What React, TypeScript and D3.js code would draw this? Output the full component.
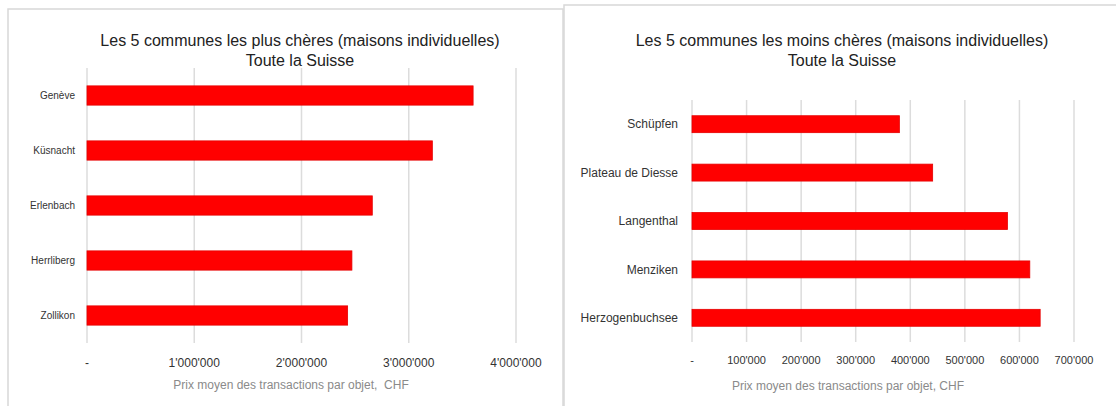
import React from "react";
import * as d3 from "d3";

const leftCategories = ["Genève", "Küsnacht", "Erlenbach", "Herrliberg", "Zollikon"];
const leftValues = [3600000, 3220000, 2660000, 2470000, 2430000];
const leftTicks = [0, 1000000, 2000000, 3000000, 4000000];

const rightCategories = ["Schüpfen", "Plateau de Diesse", "Langenthal", "Menziken", "Herzogenbuchsee"];
const rightValues = [380000, 441000, 578000, 619000, 638000];
const rightTicks = [0, 100000, 200000, 300000, 400000, 500000, 600000, 700000];

const leftTitle = ["Les 5 communes les plus chères (maisons individuelles)", "Toute la Suisse"];
const rightTitle = ["Les 5 communes les moins chères (maisons individuelles)", "Toute la Suisse"];
const leftAxisTitle = "Prix moyen des transactions par objet,\u00a0 CHF";
const rightAxisTitle = "Prix moyen des transactions par objet, CHF";

const FONT = "'Liberation Sans', Arial, Helvetica, sans-serif";
const locale = d3.formatLocale({ decimal: ".", thousands: "'", grouping: [3], currency: ["", ""] });
const fmt = (v: number) => (v === 0 ? "-" : locale.format(",")(v));

type PanelProps = {
  categories: string[];
  values: number[];
  ticks: number[];
  title: string[];
  axisTitle: string;
  xRange: [number, number];
  yRange: [number, number];
  titleX: number;
  labelX: number;
  labelSize: number;
  tickSize: number;
  tickY: number;
  axisTitleX: number;
  axisTitleY: number;
};

function Panel(p: PanelProps) {
  const x = d3.scaleLinear().domain([p.ticks[0], p.ticks[p.ticks.length - 1]]).range(p.xRange);
  const y = d3
    .scaleBand<string>()
    .domain(p.categories)
    .range(p.yRange)
    .paddingInner(0.65)
    .paddingOuter(0.325);
  return (
    <g>
      <text x={p.titleX} y={46} textAnchor="middle" fontSize={16} fill="#222" fontFamily={FONT}>
        {p.title[0]}
      </text>
      <text x={p.titleX} y={66} textAnchor="middle" fontSize={16} fill="#222" fontFamily={FONT}>
        {p.title[1]}
      </text>
      {p.ticks.map((t) => (
        <line
          key={"g" + t}
          x1={x(t)}
          x2={x(t)}
          y1={p.yRange[0]}
          y2={p.yRange[1]}
          stroke="#dcdcdc"
          strokeWidth={1.5}
        />
      ))}
      {p.categories.map((c, i) => (
        <rect
          key={"b" + c}
          x={x(0)}
          y={y(c)!}
          width={x(p.values[i]) - x(0)}
          height={y.bandwidth()}
          fill="#ff0000"
          stroke="#e60000"
          strokeWidth={0.8}
        />
      ))}
      {p.categories.map((c) => (
        <text
          key={"l" + c}
          x={p.labelX}
          y={y(c)! + y.bandwidth() / 2}
          dy="0.35em"
          textAnchor="end"
          fontSize={p.labelSize}
          fill="#333"
          fontFamily={FONT}
        >
          {c}
        </text>
      ))}
      {p.ticks.map((t) => (
        <text
          key={"t" + t}
          x={x(t)}
          y={p.tickY}
          textAnchor="middle"
          fontSize={p.tickSize}
          fill="#333"
          fontFamily={FONT}
        >
          {fmt(t)}
        </text>
      ))}
      <text x={p.axisTitleX} y={p.axisTitleY} textAnchor="middle" fontSize={12} fill="#8a8a8a" fontFamily={FONT}>
        {p.axisTitle}
      </text>
    </g>
  );
}

export default function App() {
  return (
    <svg
      width={1116}
      height={406}
      style={{ position: "absolute", left: 0, top: 0, background: "#fff" }}
    >
      <rect x={0} y={0} width={1116} height={406} fill="#fff" />
      <rect x={8} y={9} width={555} height={420} fill="none" stroke="#d8d8d8" strokeWidth={1.5} />
      <rect x={564} y={5} width={600} height={420} fill="none" stroke="#d8d8d8" strokeWidth={1.5} />
      <Panel
        categories={leftCategories}
        values={leftValues}
        ticks={leftTicks}
        title={leftTitle}
        axisTitle={leftAxisTitle}
        xRange={[87, 516]}
        yRange={[68, 343]}
        titleX={300}
        labelX={75}
        labelSize={10}
        tickSize={12}
        tickY={367}
        axisTitleX={291}
        axisTitleY={389}
      />
      <Panel
        categories={rightCategories}
        values={rightValues}
        ticks={rightTicks}
        title={rightTitle}
        axisTitle={rightAxisTitle}
        xRange={[692, 1074]}
        yRange={[100, 342]}
        titleX={842}
        labelX={678}
        labelSize={12}
        tickSize={11}
        tickY={364}
        axisTitleX={848}
        axisTitleY={390}
      />
    </svg>
  );
}
